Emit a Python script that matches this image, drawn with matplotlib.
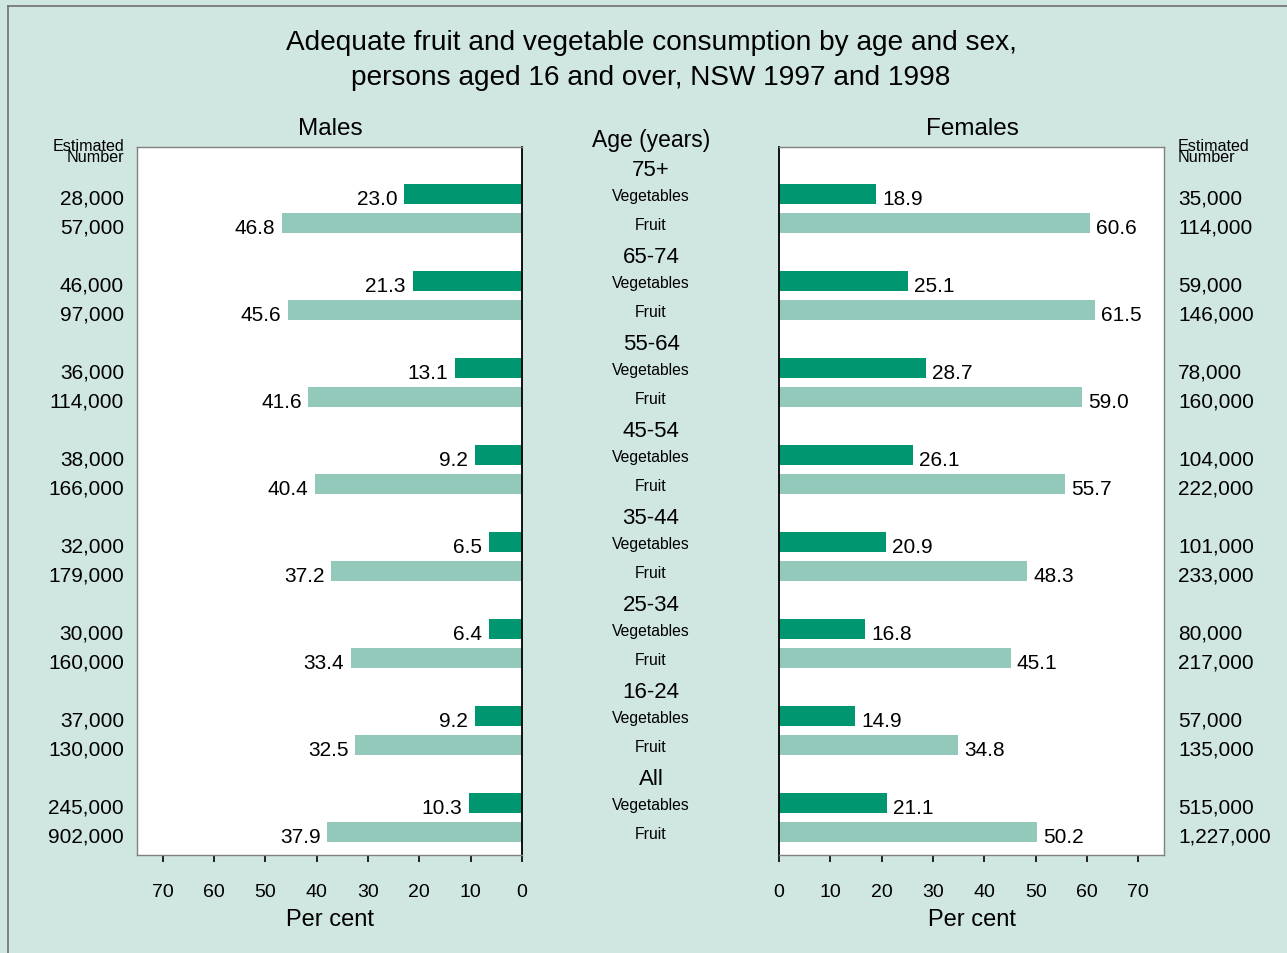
import matplotlib.pyplot as plt
from matplotlib.lines import Line2D
from matplotlib.transforms import blended_transform_factory

ages = ['75+', '65-74', '55-64', '45-54', '35-44', '25-34', '16-24', 'All']
male_veg = [23.0, 21.3, 13.1, 9.2, 6.5, 6.4, 9.2, 10.3]
male_fruit = [46.8, 45.6, 41.6, 40.4, 37.2, 33.4, 32.5, 37.9]
female_veg = [18.9, 25.1, 28.7, 26.1, 20.9, 16.8, 14.9, 21.1]
female_fruit = [60.6, 61.5, 59.0, 55.7, 48.3, 45.1, 34.8, 50.2]
male_veg_n = ['28,000', '46,000', '36,000', '38,000', '32,000', '30,000', '37,000', '245,000']
male_fruit_n = ['57,000', '97,000', '114,000', '166,000', '179,000', '160,000', '130,000', '902,000']
female_veg_n = ['35,000', '59,000', '78,000', '104,000', '101,000', '80,000', '57,000', '515,000']
female_fruit_n = ['114,000', '146,000', '160,000', '222,000', '233,000', '217,000', '135,000', '1,227,000']
ticks = [0, 10, 20, 30, 40, 50, 60, 70]

bg = '#D0E6E1'
dark = '#009670'
light = '#93C9BA'

plt.rcParams['font.family'] = ['Liberation Sans', 'DejaVu Sans']

fig = plt.figure(figsize=(12.87, 9.54), dpi=100, facecolor=bg)
axl = fig.add_axes([137 / 1287, 98 / 954, 385 / 1287, 708 / 954])
axr = fig.add_axes([779 / 1287, 98 / 954, 385 / 1287, 708 / 954])

# rows: 0 = age label, 1 = vegetables, 2 = fruit, per age group
veg_y = [3 * i + 1 for i in range(len(ages))]
fruit_y = [3 * i + 2 for i in range(len(ages))]
bh = 0.7
off = 0.08

for ax, veg, fruit, side in [(axl, male_veg, male_fruit, 'l'), (axr, female_veg, female_fruit, 'r')]:
    ax.barh(veg_y, veg, height=bh, color=dark, zorder=2)
    ax.barh(fruit_y, fruit, height=bh, color=light, zorder=2)
    ax.set_ylim(23.79, -0.62)
    if side == 'l':
        ax.set_xlim(75, 0)
        for y, v in zip(veg_y + fruit_y, veg + fruit):
            ax.text(v + 1.3, y + off, '%.1f' % v, ha='right', va='center_baseline', fontsize=15)
    else:
        ax.set_xlim(0, 75)
        for y, v in zip(veg_y + fruit_y, veg + fruit):
            ax.text(v + 1.2, y + off, '%.1f' % v, ha='left', va='center_baseline', fontsize=15)
    ax.set_yticks([])
    ax.set_xticks(ticks)
    ax.tick_params(axis='x', direction='out', length=5, width=1.2, labelsize=14, pad=15)
    ax.set_xlabel('Per cent', fontsize=17, labelpad=6)
    for s in ax.spines.values():
        s.set_color('#808080')
        s.set_linewidth(1)

axl.spines['right'].set_color('black')
axl.spines['right'].set_linewidth(1.3)
axr.spines['left'].set_color('black')
axr.spines['left'].set_linewidth(1.3)

tr = blended_transform_factory(fig.transFigure, axl.transData)
for i, age in enumerate(ages):
    fig.text(651 / 1287, 3 * i + 0.06, age, transform=tr, ha='center', va='center_baseline', fontsize=16)
    fig.text(651 / 1287, veg_y[i], 'Vegetables', transform=tr, ha='center', va='center_baseline', fontsize=11.3)
    fig.text(651 / 1287, fruit_y[i], 'Fruit', transform=tr, ha='center', va='center_baseline', fontsize=11.3)
    fig.text(124 / 1287, veg_y[i] + off, male_veg_n[i], transform=tr, ha='right', va='center_baseline', fontsize=15)
    fig.text(124 / 1287, fruit_y[i] + off, male_fruit_n[i], transform=tr, ha='right', va='center_baseline', fontsize=15)
    fig.text(1178 / 1287, veg_y[i] + off, female_veg_n[i], transform=tr, ha='left', va='center_baseline', fontsize=15)
    fig.text(1178 / 1287, fruit_y[i] + off, female_fruit_n[i], transform=tr, ha='left', va='center_baseline', fontsize=15)

fig.text(651 / 1287, 1 - 43 / 954, 'Adequate fruit and vegetable consumption by age and sex,',
         ha='center', va='center', fontsize=20.2)
fig.text(651 / 1287, 1 - 78 / 954, 'persons aged 16 and over, NSW 1997 and 1998',
         ha='center', va='center', fontsize=20.2)
fig.text(330 / 1287, 1 - 129 / 954, 'Males', ha='center', va='center', fontsize=17.5)
fig.text(972 / 1287, 1 - 129 / 954, 'Females', ha='center', va='center', fontsize=17.5)
fig.text(651 / 1287, 1 - 141 / 954, 'Age (years)', ha='center', va='center', fontsize=16.5)
fig.text(124 / 1287, 1 - 152 / 954, 'Estimated\nNumber', ha='right', va='center', fontsize=11.6, linespacing=0.6)
fig.text(1178 / 1287, 1 - 152 / 954, 'Estimated\nNumber', ha='left', va='center', fontsize=11.6, linespacing=0.6)

# thin frame on the top and left edges
fig.add_artist(Line2D([8 / 1287, 8 / 1287], [0, 1 - 7 / 954], transform=fig.transFigure, color='#707070', lw=1.2))
fig.add_artist(Line2D([8 / 1287, 1], [1 - 7 / 954, 1 - 7 / 954], transform=fig.transFigure, color='#707070', lw=1.2))

fig.savefig('out.png', dpi=100, facecolor=bg)
